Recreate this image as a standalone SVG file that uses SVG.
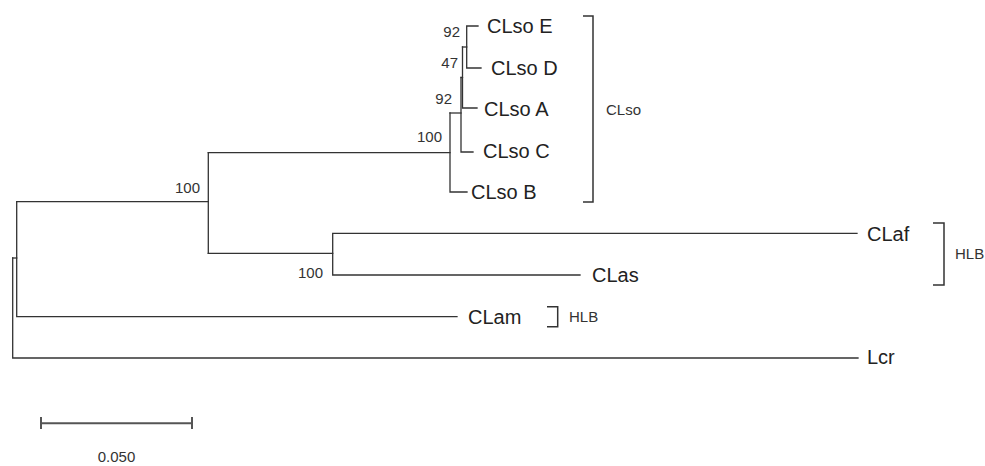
<svg xmlns="http://www.w3.org/2000/svg" width="985" height="466" viewBox="0 0 985 466">
<style>
.br{fill:none;stroke:#333;stroke-width:1.3;stroke-linecap:square}
.leaf{font-family:"Liberation Sans",Arial,sans-serif;font-size:20px;fill:#222}
.bs{font-family:"Liberation Sans",Arial,sans-serif;font-size:15px;fill:#333;text-anchor:end}
.grp{font-family:"Liberation Sans",Arial,sans-serif;font-size:15px;fill:#333}
.bk{fill:none;stroke:#333;stroke-width:1.5}
.sc{fill:none;stroke:#555;stroke-width:2}
</style>
<rect width="985" height="466" fill="#fff"/>
<g id="connectors">
<path class="br" d="M12.7,258V358H858"/>
<path class="br" d="M12.7,258H16.7"/>
<path class="br" d="M16.7,201.7V316.7H457"/>
<path class="br" d="M16.7,201.7H208.3"/>
<path class="br" d="M208.3,152.7V253.3"/>
<path class="br" d="M208.3,152.7H450"/>
<path class="br" d="M450,113V192H467"/>
<path class="br" d="M450,113H461"/>
<path class="br" d="M461,77.5V152H473"/>
<path class="br" d="M461,77.5H462.5"/>
<path class="br" d="M462.5,47V108H477"/>
<path class="br" d="M462.5,47H466.7"/>
<path class="br" d="M478,26H466.7V68H481"/>
<path class="br" d="M208.3,253.3H332.7"/>
<path class="br" d="M857,233.3H332.7V275H580"/>
</g>
<g id="node-ED"><text class="bs" x="460" y="37">92</text></g>
<g id="node-EDA"><text class="bs" x="458" y="68">47</text></g>
<g id="node-EDAC"><text class="bs" x="452" y="104">92</text></g>
<g id="node-CLso"><text class="bs" x="442" y="141.5">100</text></g>
<g id="node-ingroup"><text class="bs" x="200" y="193">100</text></g>
<g id="node-afas"><text class="bs" x="323" y="278">100</text></g>
<g id="leaf-CLsoE"><text class="leaf" x="487" y="33">CLso E</text></g>
<g id="leaf-CLsoD"><text class="leaf" x="491" y="75">CLso D</text></g>
<g id="leaf-CLsoA"><text class="leaf" x="484" y="115.5">CLso A</text></g>
<g id="leaf-CLsoC"><text class="leaf" x="483" y="158">CLso C</text></g>
<g id="leaf-CLsoB"><text class="leaf" x="471" y="199">CLso B</text></g>
<g id="leaf-CLaf"><text class="leaf" x="867" y="240.5">CLaf</text></g>
<g id="leaf-CLas"><text class="leaf" x="592" y="282">CLas</text></g>
<g id="leaf-CLam"><text class="leaf" x="468" y="324">CLam</text></g>
<g id="leaf-Lcr"><text class="leaf" x="867" y="364">Lcr</text></g>
<g id="bracket-CLso"><path class="bk" d="M583,16H593V202H583"/><text class="grp" x="606" y="115">CLso</text></g>
<g id="bracket-HLB1"><path class="bk" d="M933,223H944V285H933"/><text class="grp" x="955" y="259">HLB</text></g>
<g id="bracket-HLB2"><path class="bk" d="M547,306.7H557.7V326.7H547"/><text class="grp" x="569" y="322">HLB</text></g>
<g id="scale-bar"><path class="sc" d="M41,423.3H192M41,417V429M192,417V429"/><text class="grp" x="116.5" y="462" text-anchor="middle" font-size="14">0.050</text></g>
</svg>
